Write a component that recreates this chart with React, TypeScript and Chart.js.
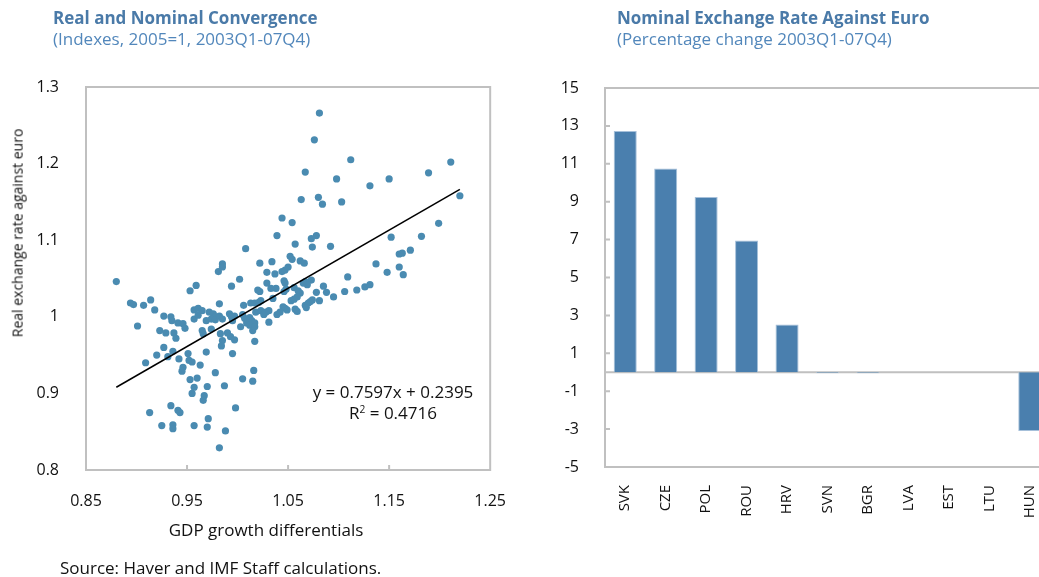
import React, { useEffect, useRef } from "react";
import { Chart, registerables } from "chart.js";

Chart.register(...registerables);

// Left panel: GDP growth differentials vs real exchange rate against euro
const gdpGrowthDiff = [
  1.044, 1.054, 1.039, 1.008, 1.057, 0.985, 0.985, 0.981, 1.022, 1.034,
  1.029, 1.037, 1.044, 1.047, 1.05, 1.052, 1.054, 0.88, 1.002, 1.081,
  1.076, 1.112, 1.067, 1.098, 1.131, 1.15, 1.189, 1.211, 1.22, 1.063,
  1.08, 1.084, 1.103, 1.199, 1.182, 1.152, 1.078, 1.073, 1.074, 1.092,
  1.062, 1.066, 1.16, 1.163, 1.171, 1.137, 1.148, 1.16, 1.164, 1.109,
  1.073, 0.959, 0.953, 0.994, 1.02, 1.022, 1.029, 1.038, 1.046, 1.047,
  1.033, 1.048, 1.046, 1.056, 0.894, 0.897, 0.907, 0.914, 0.918, 0.982,
  1.006, 1.013, 1.017, 1.021, 1.023, 1.035, 1.045, 1.047, 1.053, 1.056,
  0.957, 0.961, 0.965, 0.972, 0.976, 0.978, 0.927, 0.934, 0.935, 0.957,
  0.961, 0.969, 0.974, 0.978, 0.982, 0.985, 0.992, 0.994, 0.997, 0.995,
  1.005, 1.007, 1.01, 1.009, 1.012, 1.014, 1.017, 1.012, 1.018, 1.023,
  1.026, 1.028, 1.031, 1.031, 1.039, 1.042, 1.049, 0.901, 0.941, 0.946,
  0.948, 0.923, 0.929, 0.937, 0.939, 0.965, 0.966, 0.974, 0.983, 0.985,
  0.99, 0.993, 0.997, 1.003, 1.017, 1.015, 1.017, 0.927, 0.92, 0.936,
  0.931, 0.951, 0.942, 0.952, 0.955, 0.969, 0.963, 0.984, 0.995, 0.909,
  0.946, 0.945, 1.016, 0.978, 0.96, 0.953, 1.005, 1.015, 0.957, 0.97,
  0.987, 0.955, 0.967, 0.966, 0.934, 0.941, 0.943, 0.913, 0.998, 0.971,
  0.925, 0.936, 0.936, 0.957, 0.97, 0.988, 0.982, 1.085, 1.078, 1.088,
  1.095, 1.106, 1.118, 1.126, 1.131, 1.081, 1.072, 1.074, 1.067, 1.07,
  1.068, 1.06, 1.062, 1.059, 1.057, 1.059, 1.067, 1.069, 1.065,
];

const realExchangeRate = [
  1.129, 1.123, 1.106, 1.089, 1.095, 1.069, 1.065, 1.059, 1.07, 1.072,
  1.058, 1.056, 1.059, 1.061, 1.065, 1.079, 1.075, 1.046, 1.049, 1.266,
  1.231, 1.205, 1.189, 1.18, 1.171, 1.18, 1.188, 1.202, 1.158, 1.153,
  1.156, 1.147, 1.15, 1.122, 1.105, 1.104, 1.106, 1.102, 1.091, 1.092,
  1.073, 1.07, 1.082, 1.083, 1.087, 1.069, 1.058, 1.065, 1.055, 1.052,
  1.048, 1.041, 1.034, 1.04, 1.035, 1.033, 1.044, 1.037, 1.047, 1.044,
  1.037, 1.036, 1.033, 1.038, 1.018, 1.016, 1.015, 1.022, 1.009, 1.017,
  1.015, 1.018, 1.018, 1.019, 1.021, 1.024, 1.013, 1.011, 1.021, 1.023,
  1.009, 1.011, 1.008, 1.006, 1.004, 1.0, 1.001, 1.0, 0.995, 0.997,
  1.002, 0.995, 0.997, 0.996, 1.001, 0.997, 1.004, 1.0, 1.001, 0.995,
  1.003, 0.998, 0.996, 0.992, 0.999, 0.995, 0.992, 0.989, 1.006, 1.008,
  1.003, 1.006, 1.008, 0.993, 1.003, 1.006, 1.009, 0.988, 0.992, 0.991,
  0.985, 0.982, 0.979, 0.979, 0.972, 0.982, 0.978, 0.984, 0.978, 0.969,
  0.979, 0.974, 0.97, 0.987, 0.968, 0.982, 0.987, 0.96, 0.95, 0.955,
  0.948, 0.952, 0.945, 0.943, 0.941, 0.954, 0.937, 0.962, 0.952, 0.94,
  0.934, 0.929, 0.93, 0.927, 0.92, 0.918, 0.919, 0.916, 0.908, 0.909,
  0.91, 0.9, 0.897, 0.891, 0.884, 0.878, 0.875, 0.875, 0.881, 0.867,
  0.858, 0.859, 0.854, 0.858, 0.856, 0.851, 0.829, 1.04, 1.032, 1.032,
  1.026, 1.033, 1.035, 1.039, 1.042, 1.021, 1.02, 1.022, 1.015, 1.018,
  1.012, 1.034, 1.031, 1.026, 1.01, 1.007, 1.046, 1.042, 1.044,
];

// Linear trend fitted through the scatter
const trendSlope = 0.7597;
const trendIntercept = 0.2395;
const trendR2 = 0.4716;
const trendXRange = [0.88, 1.22];

const scatterXTicks = [0.85, 0.95, 1.05, 1.15, 1.25];
const scatterYTicks = [0.8, 0.9, 1.0, 1.1, 1.2, 1.3];

// Right panel: nominal exchange rate against euro, % change 2003Q1-07Q4
const countries = ["SVK", "CZE", "POL", "ROU", "HRV", "SVN", "BGR", "LVA", "EST", "LTU", "HUN"];
const nominalChange = [12.73, 10.75, 9.25, 6.95, 2.52, -0.05, -0.05, 0, 0, 0, -3.1];
const barYTicks = [-5, -3, -1, 1, 3, 5, 7, 9, 11, 13, 15];

const FONT = "'Open Sans', 'DejaVu Sans', sans-serif";
const AXIS_GREY = "#c0c0c0";

function framePlugin(opts: { xTicks?: number[]; yTicks?: number[]; zeroLine?: boolean }) {
  return {
    id: "panelFrame",
    beforeDatasetsDraw(chart: any) {
      const { ctx, chartArea: a, scales } = chart;
      ctx.save();
      ctx.strokeStyle = AXIS_GREY;
      ctx.lineWidth = 2;
      ctx.strokeRect(a.left, a.top, a.right - a.left, a.bottom - a.top);
      ctx.beginPath();
      (opts.xTicks || []).forEach((v) => {
        const x = scales.x.getPixelForValue(v);
        ctx.moveTo(x, a.bottom);
        ctx.lineTo(x, a.bottom - 5);
      });
      (opts.yTicks || []).forEach((v) => {
        const y = scales.y.getPixelForValue(v);
        ctx.moveTo(a.left, y);
        ctx.lineTo(a.left + 5, y);
      });
      if (opts.zeroLine) {
        const y = scales.y.getPixelForValue(0);
        ctx.moveTo(a.left, y);
        ctx.lineTo(a.right, y);
      }
      ctx.stroke();
      ctx.restore();
    },
  };
}

const fmt = (v: number | string) => String(Number(Number(v).toFixed(2)));

function ScatterPanel() {
  const ref = useRef<HTMLCanvasElement>(null);
  useEffect(() => {
    const points = gdpGrowthDiff.map((x, i) => ({ x, y: realExchangeRate[i] }));
    const trend = trendXRange.map((x) => ({ x, y: trendSlope * x + trendIntercept }));
    const chart = new Chart(ref.current!, {
      type: "scatter",
      data: {
        datasets: [
          {
            data: trend,
            showLine: true,
            borderColor: "#000000",
            borderWidth: 1.5,
            pointRadius: 0,
            order: 0,
          },
          {
            data: points,
            backgroundColor: "#4a8bb1",
            borderWidth: 0,
            pointRadius: 3.6,
            order: 1,
          },
        ],
      },
      options: {
        animation: false,
        responsive: false,
        maintainAspectRatio: false,
        layout: { padding: { top: 87, right: 21, left: 0, bottom: 0 } },
        plugins: { legend: { display: false }, tooltip: { enabled: false } },
        scales: {
          x: {
            type: "linear",
            min: scatterXTicks[0],
            max: scatterXTicks[scatterXTicks.length - 1],
            grid: { display: false },
            border: { display: false },
            ticks: {
              stepSize: 0.1,
              padding: 14,
              color: "#111",
              font: { family: FONT, size: 16 },
              callback: (v: any) => fmt(v),
            },
            afterFit: (s: any) => {
              s.height = 107;
            },
          },
          y: {
            type: "linear",
            min: scatterYTicks[0],
            max: scatterYTicks[scatterYTicks.length - 1],
            grid: { display: false },
            border: { display: false },
            ticks: {
              stepSize: 0.1,
              padding: 19,
              color: "#111",
              font: { family: FONT, size: 16 },
              callback: (v: any) => fmt(v),
            },
            afterFit: (s: any) => {
              s.width = 86;
            },
          },
        },
      },
      plugins: [framePlugin({ xTicks: scatterXTicks.slice(1, -1) })],
    } as any);
    return () => chart.destroy();
  }, []);
  return <canvas ref={ref} width={520} height={577} style={{ position: "absolute", left: 0, top: 0 }} />;
}

function BarPanel() {
  const ref = useRef<HTMLCanvasElement>(null);
  useEffect(() => {
    const chart = new Chart(ref.current!, {
      type: "bar",
      data: {
        labels: countries,
        datasets: [
          {
            data: nominalChange,
            backgroundColor: "#4a7fae",
            borderColor: "#a6c0da",
            borderWidth: 1,
            barPercentage: 0.57,
            categoryPercentage: 1,
          },
        ],
      },
      options: {
        animation: false,
        responsive: false,
        maintainAspectRatio: false,
        layout: { padding: { top: 88, right: 10, left: 0, bottom: 0 } },
        plugins: { legend: { display: false }, tooltip: { enabled: false } },
        scales: {
          x: {
            grid: { display: false },
            border: { display: false },
            ticks: {
              minRotation: 90,
              maxRotation: 90,
              autoSkip: false,
              padding: 10,
              color: "#111",
              font: { family: FONT, size: 15 },
            },
            afterFit: (s: any) => {
              s.height = 110;
            },
          },
          y: {
            min: barYTicks[0],
            max: barYTicks[barYTicks.length - 1],
            grid: { display: false },
            border: { display: false },
            ticks: {
              stepSize: 2,
              padding: 18,
              color: "#111",
              font: { family: FONT, size: 16 },
            },
            afterFit: (s: any) => {
              s.width = 85;
            },
          },
        },
      },
      plugins: [framePlugin({ yTicks: barYTicks.slice(1, -1), zeroLine: true })],
    } as any);
    return () => chart.destroy();
  }, []);
  return <canvas ref={ref} width={540} height={577} style={{ position: "absolute", left: 520, top: 0 }} />;
}

function Text(props: {
  x: number;
  y: number;
  center?: boolean;
  rotate?: boolean;
  size?: number;
  bold?: boolean;
  color?: string;
  children: React.ReactNode;
}) {
  const { x, y, center, rotate, size = 15, bold, color = "#111", children } = props;
  const tx = center || rotate ? "-50%" : "0";
  return (
    <div
      style={{
        position: "absolute",
        left: x,
        top: y,
        transform: `translate(${tx}, -50%)${rotate ? " rotate(-90deg)" : ""}`,
        whiteSpace: "nowrap",
        fontFamily: FONT,
        fontSize: size,
        fontWeight: bold ? 700 : 400,
        color,
        lineHeight: 1.2,
      }}
    >
      {children}
    </div>
  );
}

export default function App() {
  const titleColor = "#4a7aa8";
  const subColor = "#5287bb";
  return (
    <div
      style={{
        position: "fixed",
        left: 0,
        top: 0,
        width: 1039,
        height: 577,
        overflow: "hidden",
        background: "#ffffff",
      }}
    >
      <ScatterPanel />
      <BarPanel />
      <Text x={53} y={18} size={17} bold color={titleColor}>Real and Nominal Convergence</Text>
      <Text x={53} y={39} size={17} color={subColor}>(Indexes, 2005=1, 2003Q1-07Q4)</Text>
      <Text x={617} y={18} size={17} bold color={titleColor}>Nominal Exchange Rate Against Euro</Text>
      <Text x={617} y={39} size={17} color={subColor}>(Percentage change 2003Q1-07Q4)</Text>
      <Text x={18} y={233} rotate size={14}>Real exchange rate against euro</Text>
      <Text x={266} y={530} center size={17}>GDP growth differentials</Text>
      <Text x={393} y={392} center size={17}>
        {`y = ${trendSlope}x + ${trendIntercept}`}
      </Text>
      <Text x={393} y={413} center size={17}>
        R<sup style={{ fontSize: "0.6em", verticalAlign: "0.6em", lineHeight: 0 }}>2</sup>
        {` = ${trendR2}`}
      </Text>
      <Text x={60} y={568} size={17}>Source: Haver and IMF Staff calculations.</Text>
    </div>
  );
}
